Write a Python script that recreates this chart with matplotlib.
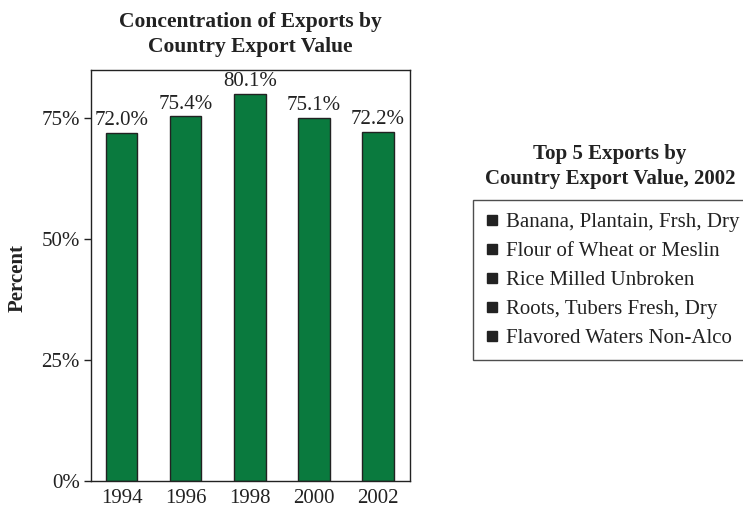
import matplotlib.pyplot as plt
from matplotlib.lines import Line2D

years = ['1994', '1996', '1998', '2000', '2002']
values = [72.0, 75.4, 80.1, 75.1, 72.2]
top_exports = ['Banana, Plantain, Frsh, Dry', 'Flour of Wheat or Meslin',
               'Rice Milled Unbroken', 'Roots, Tubers Fresh, Dry',
               'Flavored Waters Non-Alco']

plt.rcParams['font.family'] = ['Liberation Serif', 'DejaVu Serif']
green = '#0a7a3e'
ink = '#222222'

fig = plt.figure(figsize=(7.43, 5.07), dpi=100)
ax = fig.add_axes([91 / 743, 1 - 481 / 507, 319 / 743, 411 / 507])

x = range(len(years))
ax.bar(x, values, width=0.49, color=green, edgecolor=ink, linewidth=1)
for xi, v in zip(x, values):
    ax.text(xi, v + 0.5, f'{v:.1f}%', ha='center', va='bottom', fontsize=15, color=ink)

ax.set_xlim(-0.48, 4.5)
ax.set_ylim(0, 85)
ax.set_xticks(list(x))
ax.set_xticklabels(years, fontsize=15, color=ink)
ax.tick_params(axis='x', length=0, pad=6)
ax.set_yticks([0, 25, 50, 75])
ax.set_yticklabels(['0%', '25%', '50%', '75%'], fontsize=15, color=ink)
ax.tick_params(axis='y', length=5, width=1, direction='out', color=ink, pad=3)
for s in ax.spines.values():
    s.set_color(ink)
    s.set_linewidth(1)

fig.text(250 / 743, 1 - 34.5 / 507, 'Concentration of Exports by\nCountry Export Value',
         ha='center', va='center', fontsize=15.5, fontweight='bold', color=ink,
         linespacing=1.35)
ax.set_ylabel('Percent', fontsize=15, fontweight='bold', color=ink)
ax.yaxis.set_label_coords(-0.20, (481 - 278) / 411)

fig.text(610 / 743, 1 - 166.5 / 507, 'Top 5 Exports by\nCountry Export Value, 2002',
         ha='center', va='center', fontsize=15, fontweight='bold', color=ink,
         linespacing=1.3)

handles = [Line2D([], [], marker='s', linestyle='none', color=ink, markersize=7)
           for _ in top_exports]
leg = fig.legend(handles, top_exports, loc='upper left',
                 bbox_to_anchor=(473 / 743, 1 - 200 / 507), fontsize=15,
                 frameon=True, fancybox=False, edgecolor=ink,
                 handlelength=0.6, handletextpad=0.4, borderpad=0.6,
                 labelspacing=0.45, borderaxespad=0)
leg.get_frame().set_linewidth(1)
for t in leg.get_texts():
    t.set_color(ink)

fig.savefig('out.png', dpi=100)
